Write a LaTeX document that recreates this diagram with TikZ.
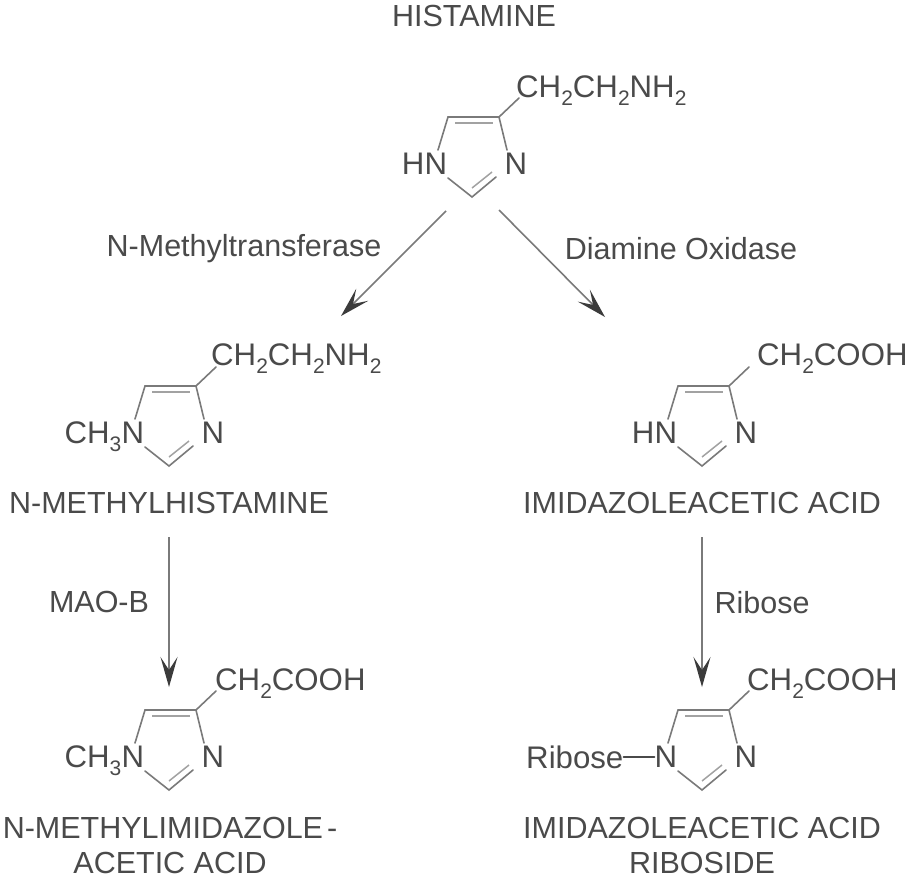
\documentclass[tikz,border=0pt]{standalone}
\usepackage{fontspec}
\setmainfont{Liberation Sans}
\usetikzlibrary{arrows.meta}
\definecolor{ink}{HTML}{4A4A4A}
\definecolor{shaft}{HTML}{7A7A7A}
\newcommand{\sbs}[1]{\raisebox{-8pt}{\fontsize{21}{21}\selectfont #1}}
\tikzset{
  x=1pt,y=-1pt,
  atom/.style={inner sep=0pt,text=ink,font=\fontsize{31.2}{31.2}\selectfont},
  txt/.style={inner sep=0pt,text=ink,font=\fontsize{30.5}{35}\selectfont,align=center},
  bond/.style={draw=shaft,line width=1.6pt,line cap=round},
  dbl/.style={draw=shaft!70,line width=1.5pt},
  react/.style={draw=shaft,line width=1.6pt,-{Stealth[length=30pt,width=17pt,inset=13pt,color=ink!80!black]}}
}
% #1 prefix, #2 x, #3 y of the ring carbon bearing the side chain
\newcommand{\imid}[3]{%
  \begin{scope}[shift={(#2,#3)}]
    \coordinate (#1a) at (0,0);
    \coordinate (#1b) at (-51,0);
    \coordinate (#1c) at (-27,80);
    \coordinate (#1s) at (20,-19);
    \node[atom] (#1n3) at (17,47) {N};
    \node[atom] (#1n1) at (-63,47) {N};
    \draw[bond] (#1s) -- (#1a) -- (8,33);
    \draw[bond] (#1a) -- (#1b) -- (-61,33);
    \draw[bond] (-51,61) -- (#1c) -- (-3,60);
    \draw[dbl] (-44,6) -- (-6,6);
    \draw[dbl] (-27,71) -- (-7,55);
  \end{scope}}
\begin{document}
\begin{tikzpicture}
\useasboundingbox (0,0) rectangle (909,881);
\fill[white] (0,0) rectangle (909,881);

\node[txt] (t1) at (474,16) {HISTAMINE};
\imid{A}{499}{117}
\node[atom,anchor=base east] (Ah) at (An1.base west) {H};
\node[atom,anchor=base west] (As) at (516,97) {CH\sbs{2}CH\sbs{2}NH\sbs{2}};

\coordinate (a1s) at (446,211); \coordinate (a1e) at (341,316);
\coordinate (a2s) at (499,210); \coordinate (a2e) at (605,317);
\draw[react] (a1s) -- (a1e);
\draw[react] (a2s) -- (a2e);
\node[txt] (l1) at (244,249) {N-Methyltransferase};
\node[txt] (l2) at (681,249) {Diamine Oxidase};

\imid{B}{196}{386}
\node[atom,anchor=base east] (Bh) at (Bn1.base west) {CH\sbs{3}};
\node[atom,anchor=base west] (Bs) at (211,365) {CH\sbs{2}CH\sbs{2}NH\sbs{2}};
\node[txt] (t2) at (169,503) {N-METHYLHISTAMINE};

\imid{C}{729}{386}
\node[atom,anchor=base east] (Ch) at (Cn1.base west) {H};
\node[atom,anchor=base west] (Cs) at (757,365) {CH\sbs{2}COOH};
\node[txt] (t3) at (702,503) {IMIDAZOLEACETIC ACID};

\coordinate (a3s) at (169,537); \coordinate (a3e) at (169,687);
\coordinate (a4s) at (702,537); \coordinate (a4e) at (702,687);
\draw[react] (a3s) -- (a3e);
\draw[react] (a4s) -- (a4e);
\node[txt] (l3) at (99,602) {MAO-B};
\node[txt] (l4) at (762,603) {Ribose};

\imid{D}{196}{710}
\node[atom,anchor=base east] (Dh) at (Dn1.base west) {CH\sbs{3}};
\node[atom,anchor=base west] (Ds) at (215,690) {CH\sbs{2}COOH};
\node[txt] (t4) at (170,845) {N-METHYLIMIDAZOLE\kern4pt-\\ACETIC ACID};

\imid{E}{729}{710}
\node[atom,anchor=east] (Eh) at ([xshift=-31pt]En1.west) {Ribose};
\draw[bond,draw=ink] (Eh.east) -- (En1.west);
\node[atom,anchor=base west] (Es) at (747,690) {CH\sbs{2}COOH};
\node[txt] (t5) at (702,845) {IMIDAZOLEACETIC ACID\\RIBOSIDE};
\end{tikzpicture}
\end{document}
